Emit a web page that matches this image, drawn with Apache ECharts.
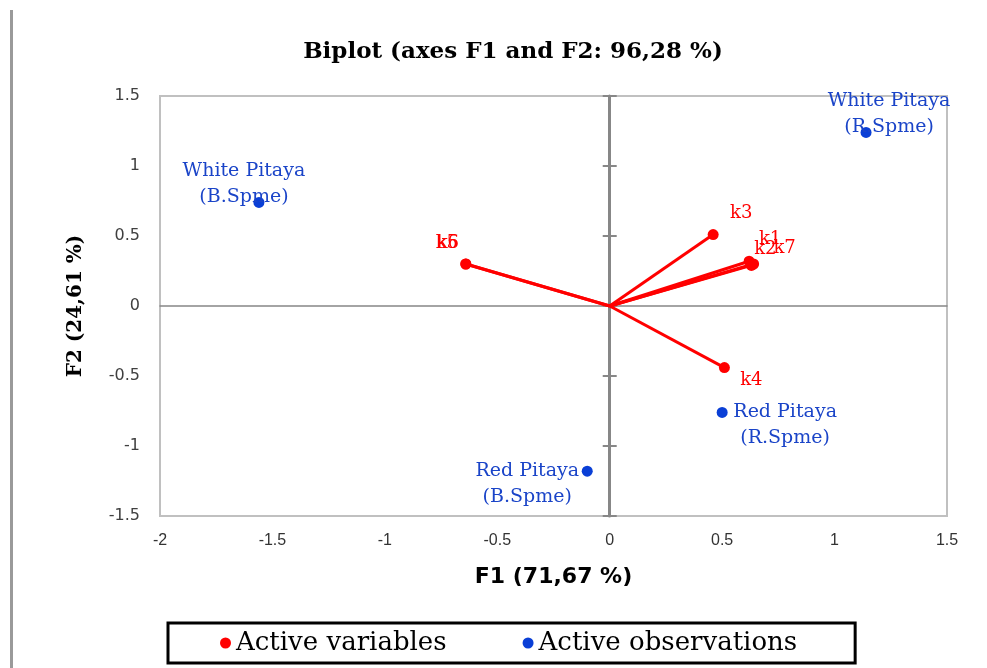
<!DOCTYPE html>
<html>
<head>
<meta charset="utf-8">
<script src="https://cdn.jsdelivr.net/npm/echarts@6/dist/echarts.min.js"></script>
<style>
html,body{margin:0;padding:0;background:#fff;}
#chart{width:987px;height:668px;}
</style>
</head>
<body>
<div id="chart"></div>
<script>
// ---- data ----
const varNames = ['k1', 'k2', 'k3', 'k4', 'k6', 'k5', 'k7'];
const varF1 = [0.62, 0.63, 0.46, 0.51, -0.64, -0.64, 0.64];
const varF2 = [0.32, 0.29, 0.51, -0.44, 0.30, 0.30, 0.30];

const obsNames = ['White Pitaya\n(R.Spme)', 'White Pitaya\n(B.Spme)', 'Red Pitaya\n(B.Spme)', 'Red Pitaya\n(R.Spme)'];
const obsF1 = [1.14, -1.56, -0.10, 0.50];
const obsF2 = [1.24, 0.74, -1.18, -0.76];

const xMin = -2, xMax = 1.5, yMin = -1.5, yMax = 1.5, step = 0.5;

const titleText = 'Biplot (axes F1 and F2: 96,28 %)';
const xName = 'F1 (71,67 %)';
const yName = 'F2 (24,61 %)';
const legendVar = 'Active variables';
const legendObs = 'Active observations';

// ---- label layout (styling, separate from data) ----
const varLabelOffset = {
  k1: [21, -22], k2: [14, -16], k3: [28, -21], k4: [27, 13],
  k5: [-19, -21], k6: [-18, -21], k7: [31, -16]
};
const obsLabelOffset = [[23, -18], [-15, -18], [-60, 13], [63, 13]];

const RED = '#ff0000';
const BLUE = '#0a3fd6';
const BLUE_TXT = '#1a44c8';
const AXIS_GRAY = '#878787';

const chart = echarts.init(document.getElementById('chart'), null, {renderer: 'canvas'});

const varPoints = varNames.map((n, i) => ({
  name: n,
  value: [varF1[i], varF2[i]],
  label: {offset: varLabelOffset[n]}
}));
const varLines = varNames.map((n, i) => ({coords: [[0, 0], [varF1[i], varF2[i]]]}));
const obsPoints = obsNames.map((n, i) => ({
  name: n,
  value: [obsF1[i], obsF2[i]],
  label: {offset: obsLabelOffset[i]}
}));

const option = {
  animation: false,
  backgroundColor: '#ffffff',
  graphic: [
    {type: 'rect', left: 10, top: 10, shape: {width: 3, height: 658}, style: {fill: '#9a9a9a'}, silent: true},
    {type: 'text', x: 513, y: 52, style: {text: titleText, textAlign: 'center', textVerticalAlign: 'middle',
      font: 'bold 23px "DejaVu Serif"', fill: '#000'}}
  ],
  grid: {left: 160, right: 40, top: 96, bottom: 152, show: true, borderColor: '#c0c0c0', borderWidth: 2, backgroundColor: 'transparent'},
  legend: {
    data: [legendVar, legendObs],
    left: 168, top: 623,
    padding: [7, 58, 7, 52],
    itemGap: 76,
    icon: 'circle', itemWidth: 11, itemHeight: 11,
    borderColor: '#000', borderWidth: 3,
    textStyle: {fontFamily: 'DejaVu Serif', fontSize: 26, color: '#000'}
  },
  xAxis: [
    {
      type: 'value', min: xMin, max: xMax, interval: step, position: 'bottom',
      axisLine: {show: false, onZero: false}, axisTick: {show: false}, splitLine: {show: false},
      axisLabel: {margin: 17, color: '#333', fontFamily: 'Liberation Sans', fontSize: 16},
      name: xName, nameLocation: 'middle', nameGap: 50,
      nameTextStyle: {fontFamily: 'DejaVu Sans', fontWeight: 'bold', fontSize: 22, color: '#000'}
    },
    {
      type: 'value', min: xMin, max: xMax, interval: step,
      axisLine: {show: true, onZero: true, lineStyle: {color: AXIS_GRAY, width: 1.5}},
      axisTick: {show: false}, axisLabel: {show: false}, splitLine: {show: false}
    }
  ],
  yAxis: [
    {
      type: 'value', min: yMin, max: yMax, interval: step, position: 'left',
      axisLine: {show: false, onZero: false}, axisTick: {show: false}, splitLine: {show: false},
      axisLabel: {margin: 20, color: '#404040', fontFamily: 'DejaVu Sans', fontSize: 16},
      name: yName, nameLocation: 'middle', nameGap: 74, nameRotate: 90,
      nameTextStyle: {fontFamily: 'DejaVu Serif', fontWeight: 'bold', fontSize: 20, color: '#000'}
    },
    {
      type: 'value', min: yMin, max: yMax, interval: step, position: 'left',
      axisLine: {show: true, onZero: true, lineStyle: {color: AXIS_GRAY, width: 3}},
      axisTick: {show: true, length: 7, lineStyle: {color: AXIS_GRAY, width: 2}},
      axisLabel: {show: false}, splitLine: {show: false}
    },
    {
      type: 'value', min: yMin, max: yMax, interval: step, position: 'right',
      axisLine: {show: false, onZero: true},
      axisTick: {show: true, length: 7, lineStyle: {color: AXIS_GRAY, width: 2}},
      axisLabel: {show: false}, splitLine: {show: false}
    }
  ],
  series: [
    {
      type: 'lines', coordinateSystem: 'cartesian2d', xAxisIndex: 0, yAxisIndex: 0,
      data: varLines, silent: true, z: 3,
      lineStyle: {color: RED, width: 3, opacity: 1}
    },
    {
      name: legendVar, type: 'scatter', xAxisIndex: 0, yAxisIndex: 0, z: 4,
      symbol: 'circle', symbolSize: 11,
      itemStyle: {color: RED, opacity: 1},
      data: varPoints,
      label: {show: true, position: 'inside', formatter: '{b}', color: RED,
        fontFamily: 'DejaVu Serif', fontSize: 18}
    },
    {
      name: legendObs, type: 'scatter', xAxisIndex: 0, yAxisIndex: 0, z: 4,
      symbol: 'circle', symbolSize: 11,
      itemStyle: {color: BLUE, opacity: 1},
      data: obsPoints,
      label: {show: true, position: 'inside', formatter: '{b}', color: BLUE_TXT,
        fontFamily: 'DejaVu Serif', fontSize: 19, lineHeight: 26, align: 'center'}
    }
  ]
};
chart.setOption(option);
</script>
</body>
</html>
